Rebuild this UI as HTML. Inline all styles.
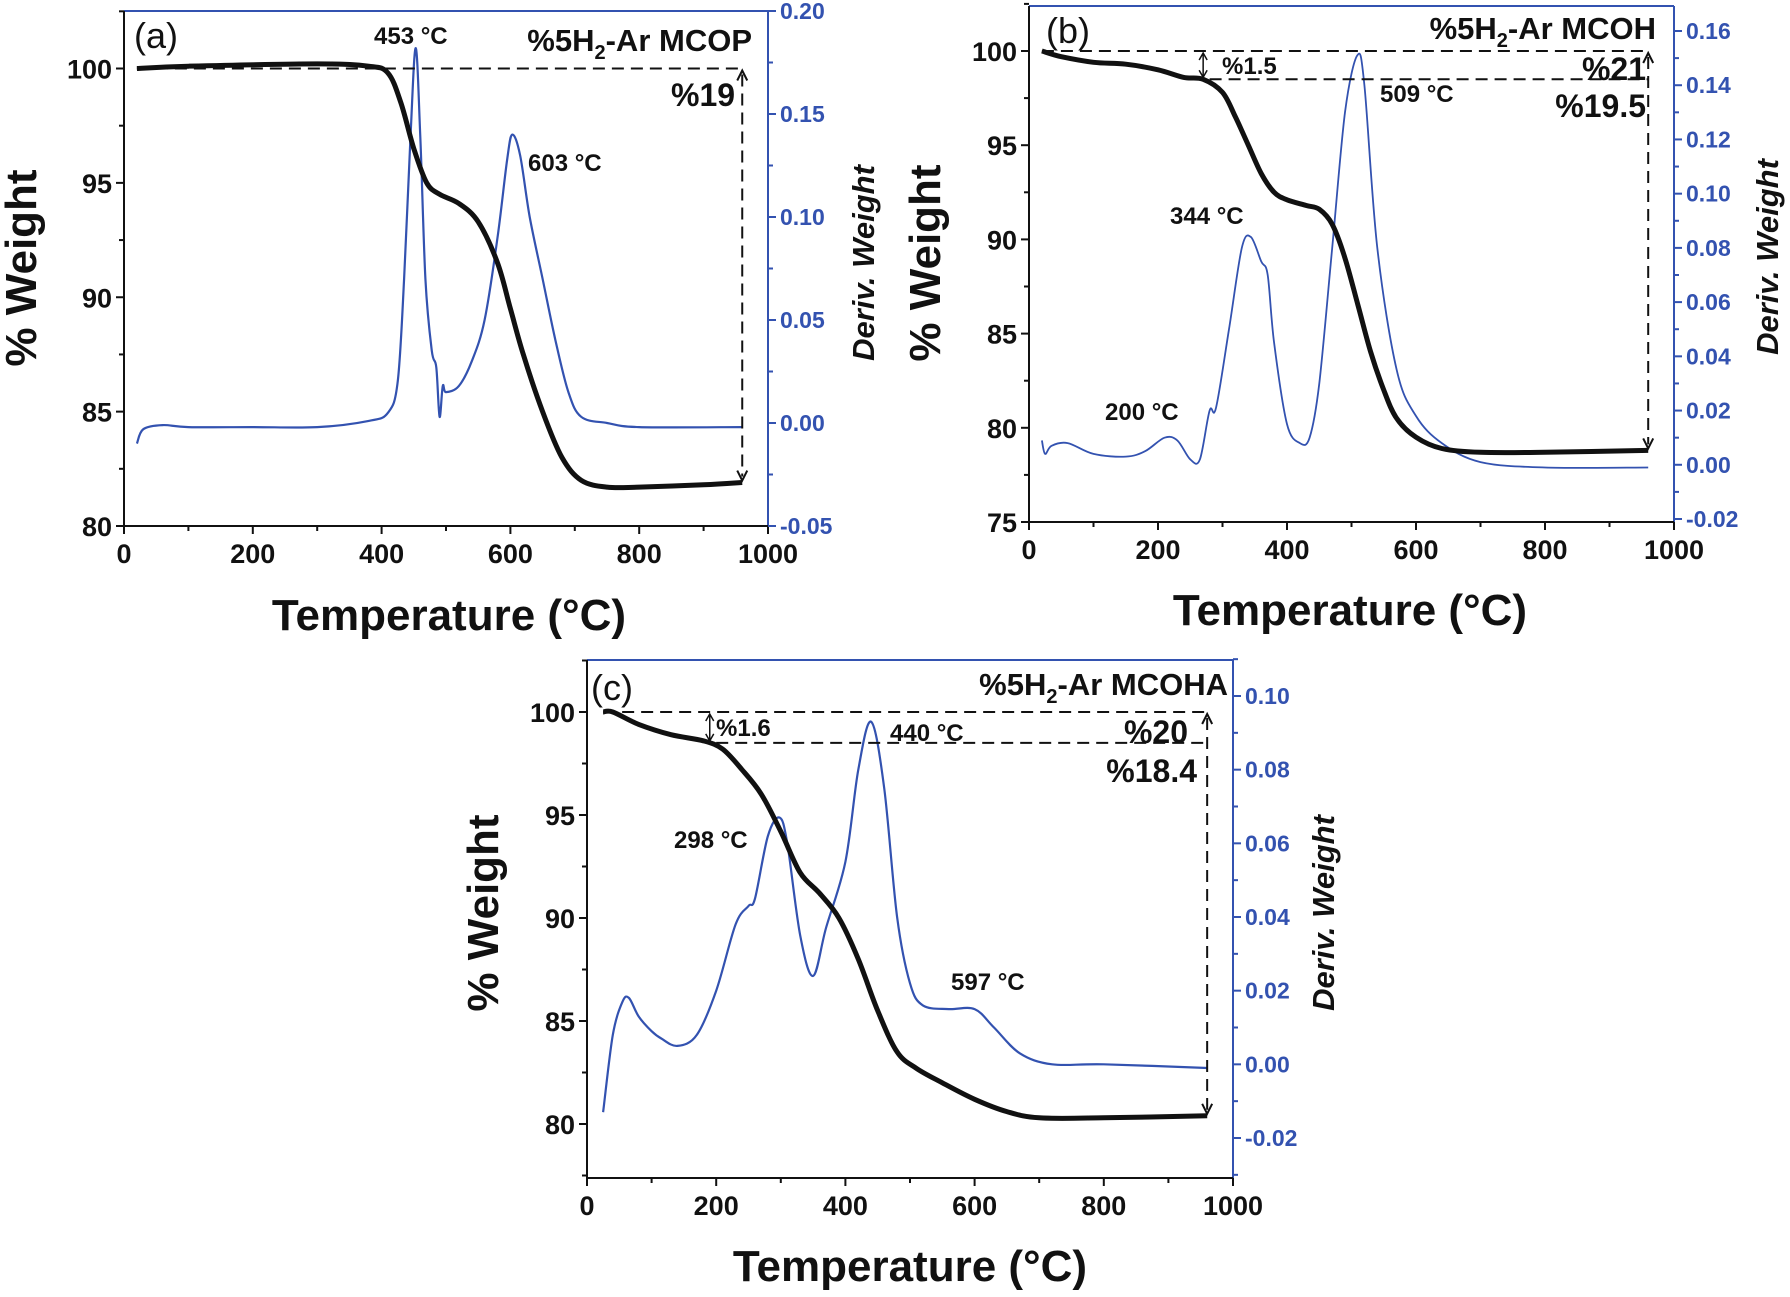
<!DOCTYPE html>
<html><head><meta charset="utf-8"><style>
html,body{margin:0;padding:0;background:#fff;}
svg{display:block;}
text{font-family:"Liberation Sans Narrow","Liberation Sans",sans-serif;}
</style></head><body>
<svg id="chart" xmlns="http://www.w3.org/2000/svg" width="1790" height="1297" viewBox="0 0 1790 1297"></svg>
<script>
// ---- data ----
const aWeightT = [20,100,300,380,410,430,450,470,490,520,550,580,600,620,650,680,710,750,800,900,960];
const aWeight  = [100,100.1,100.2,100.1,99.8,98.5,96.5,95,94.5,94.1,93.3,91.5,89.5,87.5,85,83,82,81.7,81.7,81.8,81.9];
const aDerivT = [20,30,60,100,200,300,380,410,425,435,445,453,460,468,478,485,490,495,500,520,540,560,580,595,603,615,630,650,670,690,710,750,800,960];
const aDeriv  = [-0.01,-0.003,-0.001,-0.002,-0.002,-0.002,0.001,0.005,0.02,0.07,0.14,0.182,0.14,0.07,0.035,0.027,0.003,0.018,0.015,0.018,0.03,0.05,0.09,0.128,0.14,0.13,0.1,0.07,0.04,0.015,0.003,0,-0.002,-0.002];

const bWeightT = [20,50,100,150,200,240,270,300,320,340,360,380,400,430,450,470,490,510,530,550,570,600,640,700,800,960];
const bWeight  = [100,99.7,99.4,99.3,99.0,98.6,98.5,97.8,96.5,95,93.5,92.5,92.1,91.8,91.6,90.8,89,86.5,84,82,80.5,79.5,78.9,78.7,78.7,78.8];
const bDerivT = [20,25,35,60,100,150,180,210,230,250,265,280,290,310,330,344,360,370,380,400,420,435,450,470,490,509,520,540,570,600,640,700,800,960];
const bDeriv  = [0.009,0.004,0.007,0.008,0.004,0.003,0.005,0.010,0.009,0.002,0.002,0.02,0.021,0.05,0.08,0.084,0.075,0.07,0.045,0.015,0.008,0.01,0.03,0.08,0.13,0.151,0.14,0.08,0.035,0.018,0.008,0.001,-0.001,-0.001];

const cWeightT = [25,40,80,130,180,210,240,270,300,330,360,390,420,450,480,510,550,600,650,700,800,960];
const cWeight  = [100,100,99.4,98.9,98.6,98.2,97.2,96,94.2,92.2,91.2,90,88,85.5,83.5,82.7,82,81.2,80.6,80.3,80.3,80.4];
const cDerivT = [25,40,55,65,80,100,115,140,170,200,230,250,260,280,298,310,330,350,370,400,420,440,460,480,500,520,560,600,630,670,720,800,960];
const cDeriv  = [-0.013,0.008,0.017,0.018,0.013,0.009,0.007,0.005,0.008,0.02,0.038,0.043,0.045,0.062,0.067,0.06,0.035,0.024,0.037,0.055,0.08,0.093,0.075,0.04,0.022,0.016,0.015,0.015,0.01,0.003,0,0,-0.001];

const xTicks = [0,200,400,600,800,1000];

const NS="http://www.w3.org/2000/svg";
const svg=document.getElementById('chart');
const BLUE="#3352b0";
function mk(tag,attrs,parent){const e=document.createElementNS(NS,tag);for(const k in attrs)e.setAttribute(k,attrs[k]);(parent||svg).appendChild(e);return e;}
function txt(s,x,y,size,opts,parent){opts=opts||{};const e=mk('text',{x:x,y:y,'font-size':size,'font-weight':opts.w||'bold',fill:opts.fill||'#111','text-anchor':opts.anchor||'start'},parent);if(opts.family)e.setAttribute('font-family',opts.family);if(opts.style)e.setAttribute('font-style',opts.style);if(opts.rot)e.setAttribute('transform','rotate(-90 '+x+' '+y+')');e.textContent=s;return e;}
function smooth(pts){
  let d='M'+pts[0][0].toFixed(1)+' '+pts[0][1].toFixed(1);
  for(let i=0;i<pts.length-1;i++){
    const p0=pts[i-1]||pts[i],p1=pts[i],p2=pts[i+1],p3=pts[i+2]||p2;
    const c1=[p1[0]+(p2[0]-p0[0])/6,p1[1]+(p2[1]-p0[1])/6];
    const c2=[p2[0]-(p3[0]-p1[0])/6,p2[1]-(p3[1]-p1[1])/6];
    d+=` C${c1[0].toFixed(1)} ${c1[1].toFixed(1)} ${c2[0].toFixed(1)} ${c2[1].toFixed(1)} ${p2[0].toFixed(1)} ${p2[1].toFixed(1)}`;
  }
  return d;
}

function panel(p){
  const g=mk('g',{});
  
  
  const X=v=>p.L+(v/1000)*(p.R-p.L);
  const Y=v=>p.y0px+(v-p.y0)*(p.y1px-p.y0px)/(p.y1-p.y0);
  const Y2=v=>p.r0px+(v-p.r0)*(p.r1px-p.r0px)/(p.r1-p.r0);
  mk('line',{x1:p.L,y1:p.T,x2:p.R,y2:p.T,stroke:BLUE,'stroke-width':2},g);
  const rt=mk('line',{x1:p.R,y1:p.T,x2:p.R,y2:p.B,stroke:BLUE,'stroke-width':2},g);
  
  const la=mk('line',{x1:p.L,y1:p.T,x2:p.L,y2:p.B,stroke:'#111','stroke-width':2},g);
  
  const ba=mk('line',{x1:p.L,y1:p.B,x2:p.R,y2:p.B,stroke:'#111','stroke-width':2},g);
  
  for(let v=0;v<=1000;v+=100){const maj=v%200===0;mk('line',{x1:X(v),y1:p.B,x2:X(v),y2:p.B+(maj?8:5),stroke:'#111','stroke-width':2},g);}
  xTicks.forEach(v=>{const t=txt(String(v),X(v),p.B+37,27,{anchor:'middle'},g);});
  for(let v=p.yMin;v<=p.yMax;v+=2.5){const maj=v%5===0;mk('line',{x1:p.L,y1:Y(v),x2:p.L-(maj?8:5),y2:Y(v),stroke:'#111','stroke-width':2},g);}
  p.yTicks.forEach(v=>{const t=txt(String(v),p.L-12,Y(v)+10,27,{anchor:'end'},g);});
  const n=Math.round((p.rMax-p.rMin)/p.rMinor);
  for(let i=0;i<=n;i++){const v=p.rMin+i*p.rMinor;const maj=Math.round(v/p.rMinor)%2===0;mk('line',{x1:p.R,y1:Y2(v),x2:p.R+(maj?8:5),y2:Y2(v),stroke:BLUE,'stroke-width':2},g);
    if(maj){const t=txt(p.rFmt(v),p.R+12,Y2(v)+8,23,{fill:BLUE},g);}}
  const dp=mk('path',{d:smooth(p.dT.map((t,i)=>[X(t),Y2(p.d[i])])),fill:'none',stroke:BLUE,'stroke-width':p.dW||2.2,'stroke-linejoin':'round'},g);
  
  const wp=mk('path',{d:smooth(p.wT.map((t,i)=>[X(t),Y(p.w[i])])),fill:'none',stroke:'#111','stroke-width':5,'stroke-linejoin':'round'},g);
  
  const dash={stroke:'#111','stroke-width':2,'stroke-dasharray':'12 7',fill:'none'};
  const h1=mk('line',Object.assign({x1:X(p.hStart),y1:Y(100),x2:X(960),y2:Y(100)},dash),g);
  
  if(p.step){const h2=mk('line',Object.assign({x1:X(p.step.x+10),y1:Y(p.step.y),x2:X(960),y2:Y(p.step.y)},dash),g);
    
    mk('line',{x1:X(p.step.x),y1:Y(100)+3,x2:X(p.step.x),y2:Y(p.step.y)-3,stroke:'#111','stroke-width':1.5},g);
    mk('path',{d:`M${X(p.step.x)-4} ${Y(100)+9} L${X(p.step.x)} ${Y(100)+2} L${X(p.step.x)+4} ${Y(100)+9} M${X(p.step.x)-4} ${Y(p.step.y)-9} L${X(p.step.x)} ${Y(p.step.y)-2} L${X(p.step.x)+4} ${Y(p.step.y)-9}`,stroke:'#111','stroke-width':1.5,fill:'none'},g);}
  const endW=p.w[p.w.length-1];
  const v=mk('line',Object.assign({x1:X(960),y1:Y(100)+6,x2:X(960),y2:Y(endW)-6},dash),g);
  
  mk('path',{d:`M${X(960)-5} ${Y(100)+12} L${X(960)} ${Y(100)+2} L${X(960)+5} ${Y(100)+12} M${X(960)-5} ${Y(endW)-12} L${X(960)} ${Y(endW)-2} L${X(960)+5} ${Y(endW)-12}`,stroke:'#111','stroke-width':2,fill:'none'},g);
  const pl=txt(p.tag,p.tagX,p.tagY,36,{w:'normal',family:'"Liberation Sans",sans-serif'},g);
  const tt=mk('text',{x:p.titleX,y:p.titleY,'font-size':31,'font-weight':'bold',fill:'#111','text-anchor':'end','font-family':'"Liberation Sans",sans-serif'},g);
  
  tt.innerHTML='%5H<tspan font-size="20" dy="8">2</tspan><tspan dy="-8">-Ar '+p.sample+'</tspan>';
  p.notes.forEach(nt=>{const t=txt(nt[0],nt[1],nt[2],nt[3],{anchor:nt[4]||'start'},g);});
  const yt=txt('% Weight',p.ytX,p.ytY,44,{rot:1,anchor:'middle',family:'"Liberation Sans",sans-serif'},g);
  const y2t=txt('Deriv. Weight',p.y2tX,p.y2tY,31,{rot:1,anchor:'middle',style:'italic',family:'"Liberation Sans",sans-serif'},g);
  const xt=txt('Temperature (°C)',p.xtX,p.xtY,44,{anchor:'middle',family:'"Liberation Sans",sans-serif'},g);
}
const f2=v=>(Math.abs(v)<1e-9?'0.00':v.toFixed(2));
panel({id:'a',L:124,R:768,T:11,B:526,y0:100,y0px:68.5,y1:80,y1px:526,yMin:80,yMax:102.5,yTicks:[80,85,90,95,100],
  r0:0.20,r0px:11,r1:-0.05,r1px:526,rMin:-0.05,rMax:0.20,rMinor:0.025,rFmt:f2,
  wT:aWeightT,w:aWeight,dT:aDerivT,d:aDeriv,hStart:20,
  tag:'(a)',tagX:134,tagY:48,titleX:752,titleY:51,sample:'MCOP',
  notes:[['453 °C',374,44,24],['603 °C',528,171,24],['%19',671,106,32]],
  ytX:36,ytY:268,y2tX:874,y2tY:263,xtX:449,xtY:630});
panel({id:'b',L:1029,R:1674,T:6,B:522,y0:100,y0px:51,y1:75,y1px:522,yMin:75,yMax:102.5,yTicks:[75,80,85,90,95,100],
  r0:0.16,r0px:31,r1:-0.02,r1px:519,rMin:-0.02,rMax:0.16,rMinor:0.01,rFmt:f2,dW:1.8,
  wT:bWeightT,w:bWeight,dT:bDerivT,d:bDeriv,hStart:20,step:{x:270,y:98.5},
  tag:'(b)',tagX:1046,tagY:43,titleX:1656,titleY:39,sample:'MCOH',
  notes:[['%1.5',1222,74,24],['%21',1646,80,32,'end'],['%19.5',1646,117,32,'end'],['509 °C',1380,102,24],['344 °C',1170,224,24],['200 °C',1105,420,24]],
  ytX:940,ytY:263,y2tX:1778,y2tY:257,xtX:1350,xtY:625});
panel({id:'c',L:587,R:1233,T:660,B:1178,y0:100,y0px:712,y1:80,y1px:1124,yMin:77.5,yMax:102.5,yTicks:[80,85,90,95,100],
  r0:0.10,r0px:696,r1:-0.02,r1px:1138,rMin:-0.03,rMax:0.11,rMinor:0.01,rFmt:f2,
  wT:cWeightT,w:cWeight,dT:cDerivT,d:cDeriv,hStart:25,step:{x:190,y:98.5},
  tag:'(c)',tagX:591,tagY:700,titleX:1228,titleY:695,sample:'MCOHA',
  notes:[['%1.6',716,736,24],['440 °C',890,741,24],['%20',1188,743,32,'end'],['%18.4',1197,782,32,'end'],['298 °C',674,848,24],['597 °C',951,990,24]],
  ytX:498,ytY:913,y2tX:1334,y2tY:913,xtX:910,xtY:1281});
</script>
</body></html>
